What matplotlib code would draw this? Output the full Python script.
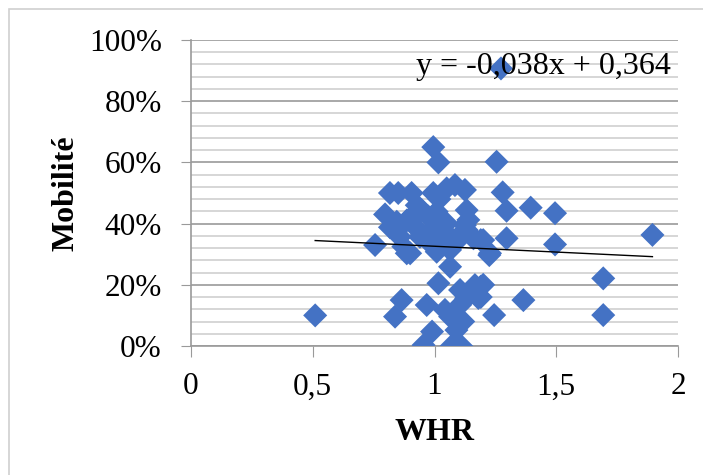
import matplotlib.pyplot as plt
from matplotlib.patches import Rectangle
from matplotlib.ticker import MultipleLocator, FuncFormatter

# WHR values and matching mobility (fraction)
whr = [0.51, 0.756, 0.797, 0.817, 0.817, 0.845, 0.851, 0.838, 0.865, 0.858,
       0.872, 0.886, 0.886, 0.90, 0.906, 0.913, 0.92, 0.927, 0.94, 0.947,
       0.955, 0.968, 0.975, 0.98, 0.99, 0.995, 0.995, 0.995, 1.009, 1.009,
       1.016, 1.016, 1.016, 1.02, 1.023, 1.036, 1.043, 1.05, 1.05, 1.05,
       1.064, 1.064, 1.064, 1.07, 1.084, 1.09, 1.09, 1.09, 1.105, 1.105,
       1.105, 1.11, 1.118, 1.125, 1.125, 1.13, 1.132, 1.132, 1.139, 1.16,
       1.166, 1.18, 1.19, 1.19, 1.19, 1.2, 1.2, 1.225, 1.228, 1.245,
       1.255, 1.273, 1.28, 1.296, 1.296, 1.365, 1.395, 1.495, 1.495, 1.693,
       1.693, 1.895]
mobilite = [0.10, 0.33, 0.43, 0.50, 0.388, 0.406, 0.50, 0.096, 0.15, 0.357,
            0.325, 0.41, 0.303, 0.303, 0.50, 0.428, 0.39, 0.46, 0.357, 0.444,
            0.003, 0.134, 0.423, 0.373, 0.047, 0.65, 0.50, 0.325, 0.439, 0.308,
            0.60, 0.205, 0.385, 0.48, 0.412, 0.346, 0.118, 0.515, 0.401, 0.368,
            0.259, 0.314, 0.096, 0.0, 0.526, 0.341, 0.052, 0.0, 0.183, 0.134,
            0.363, 0.0, 0.08, 0.51, 0.395, 0.156, 0.444, 0.379, 0.412, 0.352,
            0.199, 0.157, 0.194, 0.346, 0.16, 0.346, 0.20, 0.297, 0.303, 0.101,
            0.602, 0.907, 0.502, 0.442, 0.352, 0.15, 0.452, 0.434, 0.332, 0.221,
            0.101, 0.363]

# linear trend reported by the spreadsheet
slope, intercept = -0.038, 0.364
trend_x = [min(whr), max(whr)]
trend_y = [slope * v + intercept for v in trend_x]

plt.rcParams['font.family'] = 'Liberation Serif'

fig = plt.figure(figsize=(7.03, 4.75), dpi=100)
fig.patches.append(Rectangle((9 / 703, -0.1), 1.2, 1 - 9 / 475 + 0.1,
                             transform=fig.transFigure, fill=False,
                             edgecolor='#d0d0d0', linewidth=1.2))

ax = fig.add_axes([191 / 703, 1 - 346 / 475, 487 / 703, 306 / 475])
ax.set_xlim(0, 2)
ax.set_ylim(0, 1)

ax.yaxis.set_major_locator(MultipleLocator(0.2))
ax.yaxis.set_minor_locator(MultipleLocator(0.04))
ax.xaxis.set_major_locator(MultipleLocator(0.5))
ax.yaxis.set_major_formatter(FuncFormatter(lambda v, p: f"{v * 100:.0f}%"))
ax.xaxis.set_major_formatter(FuncFormatter(
    lambda v, p: f"{v:g}".replace('.', ',')))

ax.grid(axis='y', which='major', color='#9a9a9a', linewidth=1.2)
ax.grid(axis='y', which='minor', color='#cfcfcf', linewidth=1.2)
ax.set_axisbelow(True)

for s in ['top', 'right']:
    ax.spines[s].set_visible(False)
for s in ['left', 'bottom']:
    ax.spines[s].set_color('#9a9a9a')
    ax.spines[s].set_linewidth(1.2)

ax.tick_params(axis='y', which='major', length=7, color='#9a9a9a',
               labelsize=22.5, pad=14)
ax.tick_params(axis='y', which='minor', length=0)
ax.tick_params(axis='x', which='major', length=8, color='#9a9a9a',
               labelsize=22.5, pad=11)

ax.scatter(whr, mobilite, marker='D', s=150, color='#4472C4',
           edgecolors='none', zorder=3)
ax.plot(trend_x, trend_y, color='black', linewidth=1, zorder=4)

ax.text(0.986, 0.915, "y = -0,038x + 0,364", transform=ax.transAxes,
        ha='right', va='center', fontsize=23, zorder=5)

ax.set_xlabel("WHR", fontsize=23, fontweight='bold', labelpad=12)
ax.set_ylabel("Mobilité", fontsize=23, fontweight='bold', labelpad=6)

fig.savefig('out.png', dpi=100)
